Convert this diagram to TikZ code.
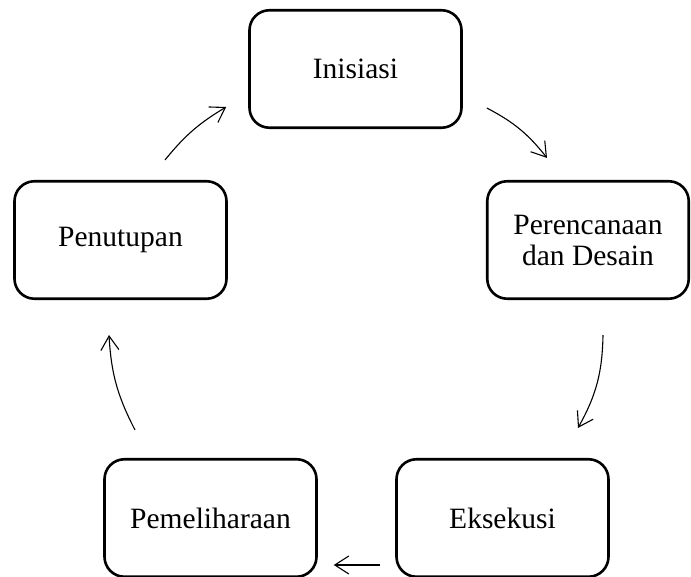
\documentclass[tikz,border=0pt]{standalone}
\usepackage{fontspec}
\setmainfont{Liberation Serif}
\usetikzlibrary{arrows.meta}

\begin{document}
\begin{tikzpicture}[x=0.5pt,y=0.5pt]
  \tikzset{
    tahap/.style={draw=black,line width=1.3pt,rounded corners=10pt,
                  minimum width=106pt,minimum height=58.75pt,align=center,
                  inner sep=0pt,font=\fontsize{14.75}{15.5}\selectfont},
    alur/.style={-{Straight Barb[length=7pt,width=9pt]},line width=0.55pt}
  }
  \useasboundingbox (0,0) rectangle (691,577);
  % tahapan siklus
  \node[tahap] (ini) at (355.5,508) {Inisiasi};
  \node[tahap,minimum width=100.75pt] (ren) at (588,337) {Perencanaan\\dan Desain};
  \node[tahap] (eks) at (502.5,59) {Eksekusi};
  \node[tahap] (pel) at (210.5,59) {Pemeliharaan};
  \node[tahap] (tut) at (120.5,337) {Penutupan};

  % panah antar tahap
  \draw[alur] ([shift={(24,-39)}]ini.east) to[bend left=12]
    ([shift={(-41,22)}]ren.north);
  \draw[alur] ([shift={(15,-35)}]ren.south) to[bend left=14]
    ([shift={(75.5,30)}]eks.north);
  \draw[alur] ([shift={(-15,-47)}]eks.west) -- ([shift={(16,-47)}]pel.east);
  \draw[alur] ([shift={(-75.5,28)}]pel.north) to[bend left=12]
    ([shift={(-11.5,-35)}]tut.south);
  \draw[alur] ([shift={(44.5,20)}]tut.north) to[bend left=10]
    ([shift={(-22,-38)}]ini.west);
\end{tikzpicture}
\end{document}
